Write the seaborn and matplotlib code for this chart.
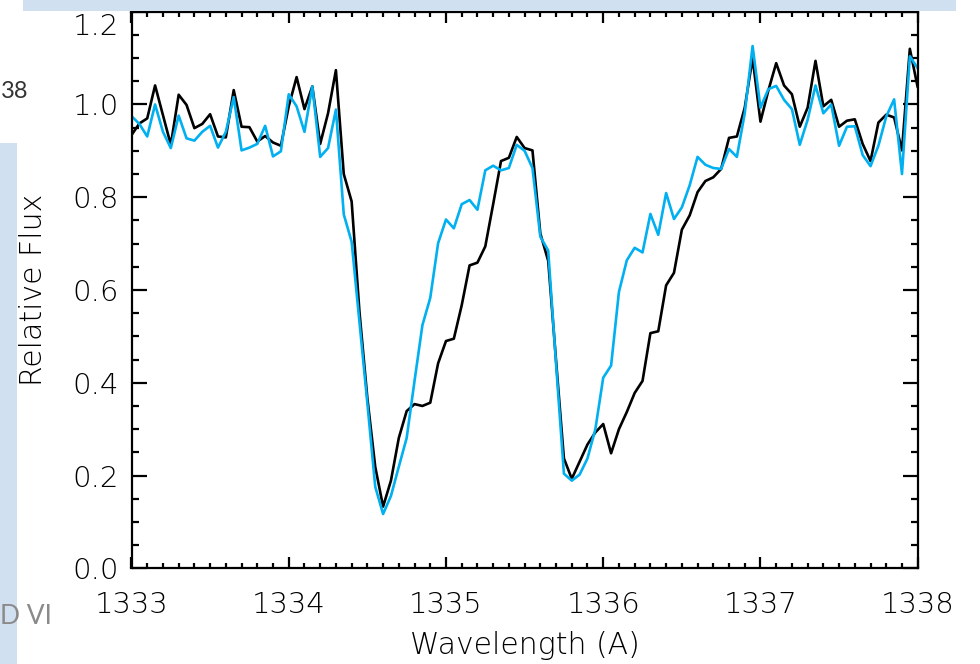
import numpy as np
import pandas as pd
import matplotlib
matplotlib.use("Agg")
import matplotlib.pyplot as plt
import matplotlib.transforms as mtransforms
from matplotlib.patches import Rectangle
from matplotlib.ticker import MultipleLocator, FormatStrFormatter
import seaborn as sns

# Spectrum sampled every 0.05 A from 1333 to 1338 A
wavelength = np.linspace(1333.0, 1338.0, 101)

flux_black = [
    0.934, 0.959, 0.970, 1.041, 0.977, 0.913, 1.021, 0.999, 0.949, 0.958,
    0.979, 0.931, 0.929, 1.031, 0.952, 0.951, 0.920, 0.932, 0.918, 0.911,
    0.996, 1.059, 0.990, 1.039, 0.915, 0.981, 1.074, 0.850, 0.791, 0.552,
    0.367, 0.219, 0.133, 0.189, 0.281, 0.339, 0.354, 0.350, 0.357, 0.442,
    0.490, 0.495, 0.567, 0.653, 0.659, 0.694, 0.785, 0.878, 0.885, 0.930,
    0.906, 0.901, 0.722, 0.663, 0.448, 0.237, 0.193, 0.230, 0.267, 0.293,
    0.311, 0.248, 0.300, 0.337, 0.378, 0.404, 0.507, 0.511, 0.610, 0.637,
    0.730, 0.761, 0.811, 0.835, 0.843, 0.861, 0.928, 0.931, 0.993, 1.100,
    0.963, 1.030, 1.089, 1.041, 1.022, 0.952, 0.993, 1.094, 0.996, 1.010,
    0.952, 0.965, 0.968, 0.915, 0.878, 0.961, 0.978, 0.972, 0.901, 1.120,
    1.037,
]

flux_blue = [
    0.975, 0.958, 0.931, 1.000, 0.941, 0.906, 0.976, 0.927, 0.922, 0.941,
    0.954, 0.907, 0.941, 1.016, 0.901, 0.907, 0.915, 0.954, 0.888, 0.899,
    1.022, 0.996, 0.941, 1.039, 0.887, 0.906, 0.989, 0.763, 0.704, 0.530,
    0.356, 0.176, 0.117, 0.156, 0.219, 0.281, 0.404, 0.524, 0.583, 0.701,
    0.752, 0.733, 0.785, 0.794, 0.773, 0.858, 0.868, 0.858, 0.863, 0.913,
    0.900, 0.863, 0.715, 0.685, 0.441, 0.204, 0.189, 0.202, 0.237, 0.300,
    0.411, 0.437, 0.596, 0.664, 0.691, 0.681, 0.764, 0.719, 0.809, 0.753,
    0.778, 0.826, 0.887, 0.870, 0.863, 0.861, 0.904, 0.887, 0.981, 1.126,
    0.993, 1.033, 1.040, 1.010, 0.990, 0.913, 0.967, 1.041, 0.981, 1.000,
    0.911, 0.952, 0.953, 0.891, 0.867, 0.911, 0.974, 1.011, 0.850, 1.104,
    1.078,
]

x_ticks = [1333, 1334, 1335, 1336, 1337, 1338]
y_ticks = [0.0, 0.2, 0.4, 0.6, 0.8, 1.0, 1.2]

series_colors = {"black": "black", "blue": "#00B0F0"}

df = pd.concat([
    pd.DataFrame({"wavelength": wavelength, "flux": flux_black, "series": "black"}),
    pd.DataFrame({"wavelength": wavelength, "flux": flux_blue, "series": "blue"}),
], ignore_index=True)

sns.set_theme(style="white")
plt.rcParams["font.family"] = ["DejaVu Sans"]
plt.rcParams["font.weight"] = "light"
plt.rcParams["axes.labelweight"] = "light"

W, H = 980, 664
fig = plt.figure(figsize=(W / 100, H / 100), dpi=100)
fig.patch.set_facecolor("white")

# pale blue backdrop strips around the panel
backdrop = "#d0e0f1"
fig.patches.append(Rectangle((23 / W, 1 - 11 / H), (956 - 23) / W, 11 / H,
                             transform=fig.transFigure, facecolor=backdrop,
                             edgecolor="none", zorder=0))
fig.patches.append(Rectangle((0, 0), 17 / W, (664 - 143) / H,
                             transform=fig.transFigure, facecolor=backdrop,
                             edgecolor="none", zorder=0))
fig.text(1 / W, 1 - 91 / H, "38", ha="left", va="center", fontsize=17,
         color="#333333", fontweight="normal", family=["Lato", "DejaVu Sans"])
fig.text(0 / W, 1 - 617 / H, "D VI", ha="left", va="center", fontsize=19,
         color="#8a8a8a", fontweight="normal", family=["Lato", "DejaVu Sans"])

left, right, top, bottom = 131.5, 917.7, 11.7, 568.3
ax = fig.add_axes([left / W, 1 - bottom / H, (right - left) / W, (bottom - top) / H])
ax.set_facecolor("white")

sns.lineplot(data=df, x="wavelength", y="flux", hue="series",
             hue_order=["black", "blue"], palette=series_colors,
             linewidth=1.9, legend=False, ax=ax, sort=False)

ax.set_xlim(1333, 1338)
ax.set_ylim(0, 1.2)
ax.set_xticks(x_ticks)
ax.set_yticks(y_ticks)
ax.xaxis.set_minor_locator(MultipleLocator(0.1))
ax.yaxis.set_minor_locator(MultipleLocator(0.05))
ax.xaxis.set_major_formatter(FormatStrFormatter("%d"))
ax.yaxis.set_major_formatter(FormatStrFormatter("%.1f"))

for s in ax.spines.values():
    s.set_visible(True)
    s.set_color("black")
    s.set_linewidth(1.6)

ax.tick_params(which="both", direction="in", top=True, right=True,
               bottom=True, left=True, width=1.6, color="black",
               labelsize=21, labelcolor="black")
ax.tick_params(axis="x", which="major", length=8, pad=16)
ax.tick_params(axis="x", which="minor", length=3.5)
ax.tick_params(axis="y", which="major", length=11, pad=9)
ax.tick_params(axis="y", which="minor", length=5)

ax.set_xlabel("Wavelength (A)", fontsize=21.5, color="black", fontweight="light")
ax.set_ylabel("Relative Flux", fontsize=21.5, color="black", fontweight="light")
ax.xaxis.set_label_coords(0.5, -0.112)
ax.yaxis.set_label_coords(-0.106, 0.5)

# top y label sits a little below its tick
top_label = ax.yaxis.get_major_ticks()[-1].label1
top_label.set_transform(top_label.get_transform() +
                        mtransforms.ScaledTranslation(0, -9 / 72, fig.dpi_scale_trans))

fig.savefig("out.png", dpi=100, facecolor="white")
